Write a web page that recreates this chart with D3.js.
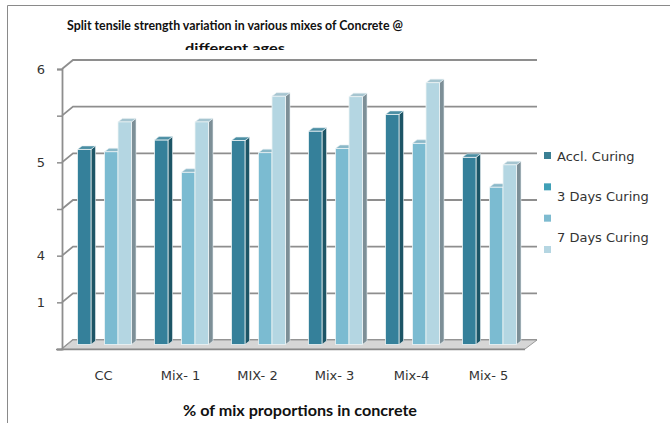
<!DOCTYPE html>
<html>
<head>
<meta charset="utf-8">
<script src="https://cdn.jsdelivr.net/npm/d3@7"></script>
<style>
  html, body { margin: 0; padding: 0; background: #fff; }
  svg { display: block; }
</style>
</head>
<body>
<svg id="chart" width="670" height="423"></svg>
<script>
// Split tensile strength per mix and curing regime
const categories = ["CC", "Mix- 1", "MIX- 2", "Mix- 3", "Mix-4", "Mix- 5"];
const seriesKeys = ["Accl. Curing", "3 Days Curing", "Series 3", "7 Days Curing"];
const acclCuring   = [4.18, 4.38, 4.37, 4.57, 4.93, 4.01];
const curing3Days  = [null, null, null, null, null, null];
const curingSeries3 = [4.13, 3.69, 4.11, 4.20, 4.31, 3.37];
const curing7Days  = [4.77, 4.77, 5.32, 5.31, 5.61, 3.85];
const seriesValues = [acclCuring, curing3Days, curingSeries3, curing7Days];
const legendLabels = ["Accl. Curing", "3 Days Curing", "7 Days Curing"];
const yTickValues = [0, 1, 2, 3, 4, 5, 6];
const yTickLabels = ["", "1", "4", "", "5", "", "6"];
const titleLines = ["Split tensile strength variation in various mixes of Concrete @", "different ages"];
const xAxisTitle = "% of mix proportions in concrete";

const faceColors = [
  { front: "#35809a", top: "#4b8ea3", side: "#1d5566" },
  { front: "#43a0b8", top: "#5aaec2", side: "#2b7080" },
  { front: "#7bbbd1", top: "#8ab8c8", side: "#6d8f9b" },
  { front: "#b4d6e2", top: "#a6c5d0", side: "#7d8f97" }
];
const legendColors = ["#3a7f94", "#40a0b7", "#7ebbd0", "#b5d6e2"];

const svg = d3.select("#chart");

// outer frame of the chart area
svg.append("path")
  .attr("d", "M7.5,423 L7.5,5.5 L670,5.5")
  .attr("fill", "none").attr("stroke", "#8a8a8a").attr("stroke-width", 1);

// scales (front plane of the 3D box)
const x = d3.scaleBand().domain(categories).range([62, 524]);
const xs = d3.scaleBand().domain(d3.range(seriesKeys.length)).range([11.5, 65.5]);
const y = d3.scaleLinear().domain([0, 6]).range([349, 69]);

// 3D offsets: back wall, bar plane, bar thickness
const wall = { dx: 11, dy: -9 };
const mid = { dx: 4, dy: -4.5 };
const thick = { dx: 4.5, dy: -3.5 };

const gGrid = svg.append("g");
const gridColor = "#8e8e8e";

// back-wall gridlines and side-wall diagonals
yTickValues.forEach(v => {
  const yf = y(v);
  const yb = yf + wall.dy;
  gGrid.append("path")
    .attr("d", `M${x.range()[0]},${yf} L${x.range()[0] + wall.dx},${yb} L${x.range()[1] + wall.dx + 2},${yb}`)
    .attr("fill", "none").attr("stroke", gridColor).attr("stroke-width", 1.8);
});

// floor
const x0 = x.range()[0], x1 = x.range()[1];
gGrid.append("path")
  .attr("d", `M${x0},${y(0)} L${x0 + wall.dx},${y(0) + wall.dy} L${x1 + wall.dx + 2},${y(0) + wall.dy} L${x1 + 1},${y(0)} Z`)
  .attr("fill", "#d6d6d6").attr("stroke", "#9a9a9a").attr("stroke-width", 1);
gGrid.append("line")
  .attr("x1", x0 - 6).attr("x2", x1 + 1).attr("y1", y(0) + 0.5).attr("y2", y(0) + 0.5)
  .attr("stroke", "#8a8a8a").attr("stroke-width", 1.6);

// vertical axis with tick marks
const yAxis = d3.axisLeft(y).tickValues(yTickValues).tickSize(5)
  .tickFormat((d, i) => yTickLabels[i]);
const gy = svg.append("g").attr("transform", `translate(${x0},0)`).call(yAxis);
gy.select(".domain").attr("stroke", gridColor).attr("stroke-width", 1.8);
gy.selectAll(".tick line").attr("stroke", gridColor).attr("stroke-width", 1.5);
gy.selectAll(".tick text")
  .attr("x", -17)
  .attr("fill", "#333")
  .style("font-family", "DejaVu Sans, sans-serif")
  .style("font-size", "13px");

// bars
const bars = [];
categories.forEach((c, ci) => {
  seriesValues.forEach((vals, si) => {
    const v = vals[ci];
    if (v == null) return;
    bars.push({ c, si, v });
  });
});

const gBars = svg.append("g");
bars.forEach(b => {
  const col = faceColors[b.si];
  const bx = x(b.c) + xs(b.si) + mid.dx;
  const bw = xs.bandwidth();
  const yt = y(b.v) + mid.dy;
  const yb = y(0) + mid.dy;
  const g = gBars.append("g");
  // side face
  g.append("path")
    .attr("d", `M${bx + bw},${yt} L${bx + bw + thick.dx},${yt + thick.dy} L${bx + bw + thick.dx},${yb + thick.dy} L${bx + bw},${yb} Z`)
    .attr("fill", col.side).attr("stroke", "#e6eef1").attr("stroke-width", 0.6);
  // top face
  g.append("path")
    .attr("d", `M${bx},${yt} L${bx + thick.dx},${yt + thick.dy} L${bx + bw + thick.dx},${yt + thick.dy} L${bx + bw},${yt} Z`)
    .attr("fill", col.top).attr("stroke", "#e6eef1").attr("stroke-width", 0.6);
  // front face
  g.append("rect")
    .attr("x", bx).attr("y", yt).attr("width", bw).attr("height", yb - yt)
    .attr("fill", col.front).attr("stroke", "#eef4f6").attr("stroke-width", 0.8);
});

// category labels
svg.append("g").selectAll("text").data(categories).join("text")
  .attr("x", d => x(d) + x.bandwidth() / 2 + 3)
  .attr("y", 380)
  .attr("text-anchor", "middle")
  .attr("fill", "#333")
  .style("font-family", "DejaVu Sans, sans-serif")
  .style("font-size", "13px")
  .text(d => d);

// axis title
svg.append("text")
  .attr("x", 300).attr("y", 416)
  .attr("text-anchor", "middle")
  .attr("fill", "#111")
  .style("font-family", "Lato, sans-serif")
  .style("font-weight", "bold")
  .style("font-size", "15.5px")
  .attr("textLength", 234)
  .attr("lengthAdjust", "spacingAndGlyphs")
  .text(xAxisTitle);

// chart title; the second line is cut by the plot area
svg.append("clipPath").attr("id", "titleClip")
  .append("rect").attr("x", 0).attr("y", 0).attr("width", 670).attr("height", 50);
const titleWidths = [336, 100];
svg.append("g").attr("clip-path", "url(#titleClip)")
  .selectAll("text").data(titleLines).join("text")
  .attr("x", 235)
  .attr("y", (d, i) => 30 + i * 23)
  .attr("text-anchor", "middle")
  .attr("fill", "#111")
  .style("font-family", "Lato, sans-serif")
  .style("font-weight", "bold")
  .style("font-size", "14px")
  .attr("textLength", (d, i) => titleWidths[i])
  .attr("lengthAdjust", "spacingAndGlyphs")
  .text(d => d);

// legend
const legendY = d3.scaleLinear().domain([0, 3]).range([152, 246]);
svg.append("g").selectAll("rect").data(legendColors).join("rect")
  .attr("x", 544).attr("y", (d, i) => legendY(i))
  .attr("width", 7).attr("height", 7)
  .attr("fill", d => d);
const labelY = d3.scaleLinear().domain([0, 2]).range([156, 237]);
svg.append("g").selectAll("text").data(legendLabels).join("text")
  .attr("x", 557).attr("y", (d, i) => labelY(i))
  .attr("dy", "0.35em")
  .attr("fill", "#333")
  .style("font-family", "DejaVu Sans, sans-serif")
  .style("font-size", "13px")
  .text(d => d);
</script>
</body>
</html>
